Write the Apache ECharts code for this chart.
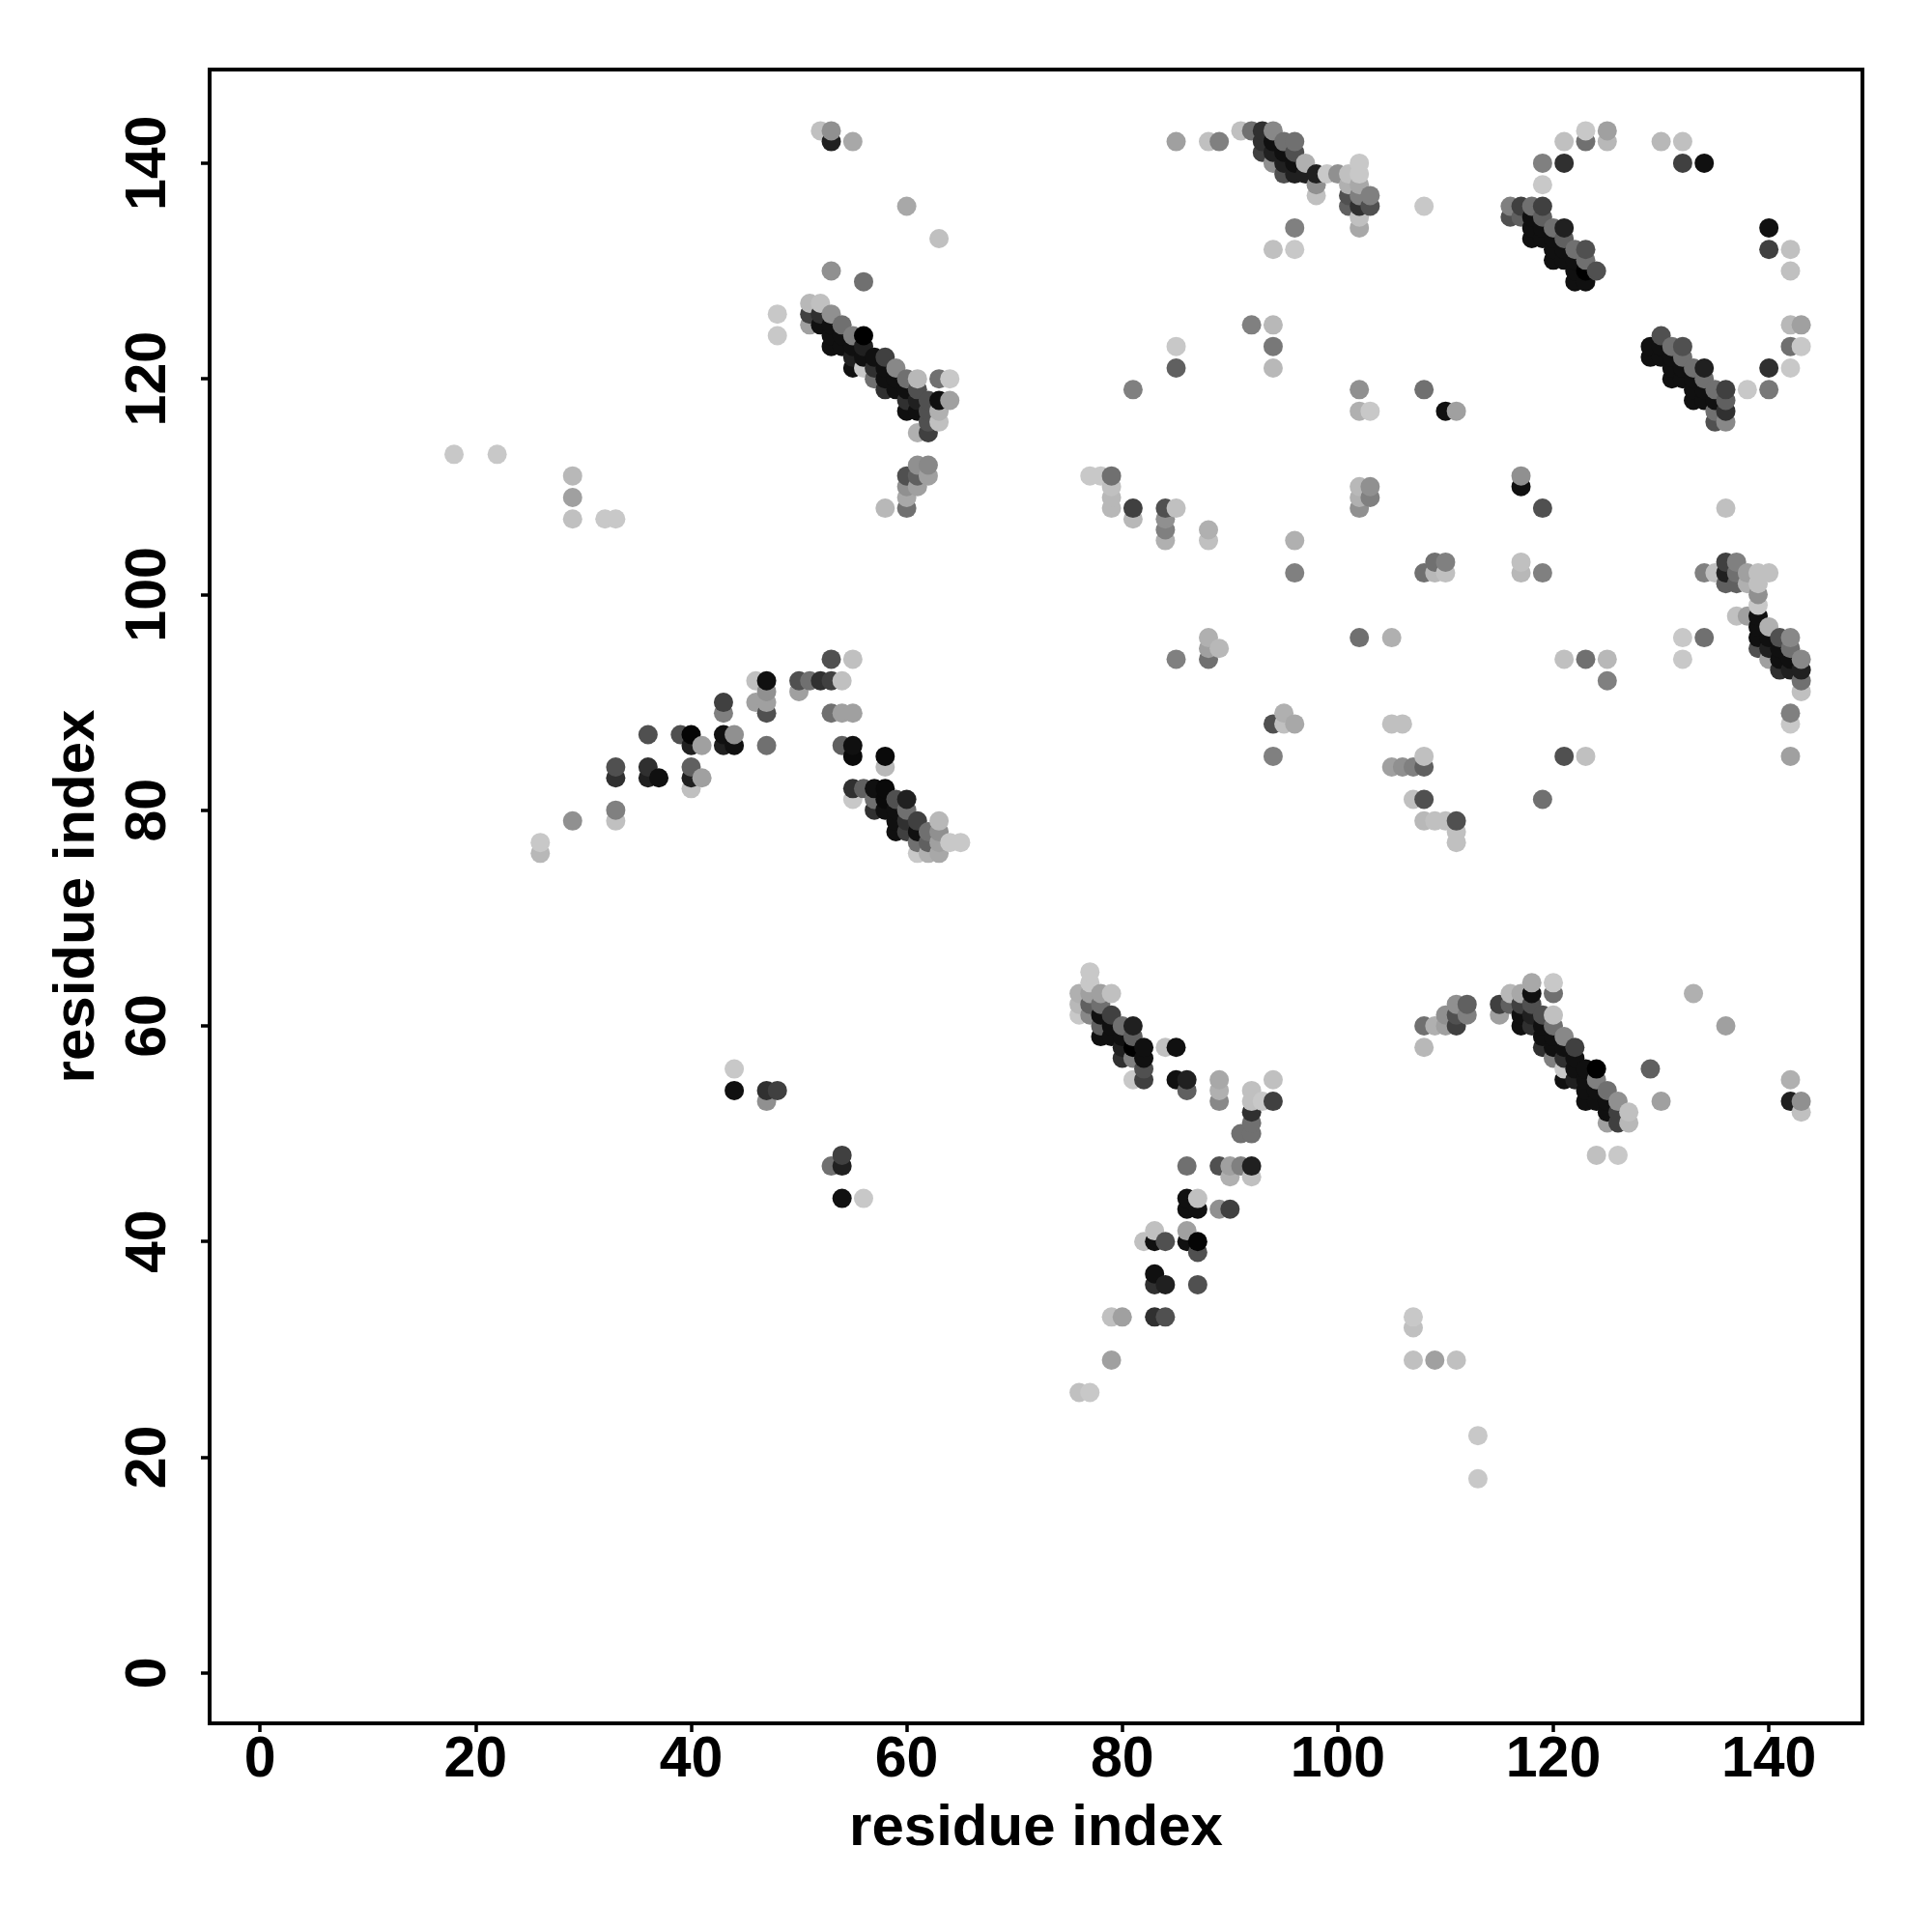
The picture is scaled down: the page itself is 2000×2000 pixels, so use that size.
<!DOCTYPE html>
<html><head><meta charset="utf-8">
<style>html,body{margin:0;padding:0;background:#fff}#c{width:2000px;height:2000px}</style>
<script src="https://cdn.jsdelivr.net/npm/echarts@6/dist/echarts.min.js"></script>
</head><body><div id="c"></div>
<script>
const tickValues=[0,20,40,60,80,100,120,140];
const axisTitle="residue index";
// contacts: [residue i, residue j, shade 0-255]
const sparseLeft=[[18,113,200],[22,113,200],[29,111,184],[29,109,160],[29,107,192],[32,107,200],[33,107,200],[26,77,200],[26,76,184],[29,79,144],[33,80,128],[33,79,192],[33,84,80],[33,83,48],[36,87,80],[36,84,48],[36,83,32],[37,83,16],[39,87,80],[40,87,5],[40,86,32],[40,84,96],[40,83,32],[40,82,192],[41,86,160],[41,83,160],[43,90,64],[43,89,128],[43,87,16],[43,86,32],[44,87,144],[44,86,16],[46,92,192],[46,90,160],[47,92,16],[47,91,144],[47,90,160],[47,89,80],[47,86,112],[50,92,80],[50,91,160],[51,92,112],[52,92,48],[53,94,80],[53,92,64],[54,92,192],[53,89,112],[54,89,160],[55,89,160],[55,94,192],[44,56,200],[44,54,16],[47,54,48],[47,53,144],[48,54,64],[53,47,112],[54,48,64],[54,47,32],[54,44,16],[56,44,200]];
const stripeLow=[[54,86,96],[55,86,16],[55,85,10],[58,85,10],[58,84,184],[55,82,48],[55,81,200],[56,82,96],[57,82,16],[57,81,112],[58,82,10],[58,81,10],[59,81,80],[60,81,32],[57,80,48],[58,80,16],[59,80,16],[60,80,112],[59,79,16],[60,79,48],[61,79,64],[59,78,16],[60,78,64],[61,78,16],[62,78,112],[63,79,184],[63,78,144],[62,77,96],[61,77,112],[63,77,160],[64,77,200],[65,77,200],[61,76,200],[62,76,176],[63,76,168]];
const stripeUpper=[[48,126,200],[48,124,200],[51,127,184],[52,127,192],[51,126,64],[51,125,160],[52,126,48],[52,125,16],[53,126,144],[53,125,16],[53,124,16],[53,123,16],[54,125,112],[54,124,16],[54,123,16],[55,124,128],[55,123,16],[55,122,32],[55,121,16],[56,124,0],[56,123,32],[56,122,16],[56,121,200],[57,122,16],[57,121,48],[57,120,112],[58,122,64],[58,121,16],[58,120,16],[58,119,48],[59,121,136],[59,120,16],[59,119,16],[60,120,112],[60,119,16],[60,118,48],[60,117,16],[61,120,184],[61,119,80],[61,118,32],[61,117,16],[61,115,176],[62,118,80],[62,117,80],[62,116,80],[62,115,64],[63,120,112],[63,118,16],[63,117,176],[63,116,192],[64,120,200],[64,118,160],[53,130,144],[56,129,112],[60,136,168],[63,133,192],[52,143,192],[53,143,144],[53,142,32],[55,142,168],[58,108,184],[60,111,80],[60,110,144],[60,109,168],[60,108,112],[61,112,144],[61,111,96],[61,110,160],[62,112,136],[62,111,160]];
const stripeTop=[[85,142,160],[88,142,192],[89,142,128],[91,143,192],[92,143,112],[93,143,48],[94,143,136],[93,142,48],[93,141,64],[94,142,16],[94,141,32],[94,140,144],[95,142,112],[95,141,16],[95,140,32],[95,139,80],[96,142,112],[96,141,80],[96,140,16],[96,139,32],[97,140,176],[97,139,32],[98,139,32],[98,138,144],[98,137,192],[99,139,200],[100,139,144],[101,139,192],[102,140,200],[102,139,200],[101,138,176],[102,138,168],[101,137,80],[102,137,128],[103,137,128],[101,136,96],[102,136,48],[103,136,80],[102,135,192],[102,134,168],[96,134,128],[94,132,192],[96,132,200]];
const stripeTopRight=[[119,138,200],[119,140,128],[121,140,48],[121,142,192],[123,142,112],[123,143,200],[125,142,184],[125,143,160],[130,142,184],[132,142,192],[132,140,64],[134,140,16],[116,136,128],[117,136,64],[118,136,112],[119,136,64],[116,135,80],[117,135,96],[118,135,16],[118,134,16],[118,133,16],[119,135,96],[119,134,16],[119,133,16],[120,134,112],[120,133,16],[120,132,16],[120,131,16],[121,134,32],[121,133,96],[121,132,16],[121,131,16],[122,132,112],[122,131,16],[122,130,16],[122,129,16],[123,132,80],[123,131,112],[123,130,0],[123,129,16],[124,130,80]];
const stripeRight=[[130,124,80],[129,123,16],[129,122,16],[130,123,16],[130,122,16],[131,123,112],[131,122,16],[131,121,16],[131,120,16],[132,123,80],[132,122,112],[132,121,16],[132,120,16],[133,121,112],[133,120,16],[133,119,16],[133,118,16],[134,121,32],[134,120,112],[134,119,16],[134,118,16],[135,119,112],[135,118,16],[135,117,112],[135,116,80],[136,119,64],[136,118,96],[136,117,48],[136,116,136],[138,119,200],[140,119,120],[140,121,48],[142,121,200],[142,123,112],[143,123,200],[142,125,184],[143,125,160],[140,134,16],[140,132,64],[142,132,192],[142,130,192]];
const sparseMiddle=[[108,136,200],[92,125,128],[94,125,184],[94,123,120],[94,121,184],[85,123,200],[85,121,96],[81,119,128],[102,119,144],[108,119,112],[102,117,176],[103,117,200],[110,117,16],[111,117,160],[77,111,200],[78,111,200],[79,111,112],[79,110,192],[79,109,184],[79,108,184],[81,108,64],[81,107,184],[84,108,80],[84,107,144],[84,106,128],[84,105,176],[85,108,192],[88,106,176],[88,105,192],[96,105,176],[96,102,128],[102,110,184],[103,110,144],[102,109,176],[103,109,128],[102,108,144],[117,111,144],[117,110,16],[119,108,80],[108,102,112],[109,103,112],[109,102,184],[110,103,128],[110,102,192],[117,103,192],[117,102,184],[119,102,128],[136,108,192],[121,94,192],[123,94,112],[125,94,184],[125,92,128],[121,85,80],[123,85,192],[119,81,112],[102,96,112],[105,96,176],[85,94,128],[88,96,176],[89,95,184],[88,95,160],[88,94,112],[94,88,80],[95,89,176],[95,88,192],[96,88,168],[94,85,128],[105,88,192],[106,88,192],[105,84,160],[106,84,144],[107,84,128],[108,85,192],[108,84,96],[107,81,192],[108,81,80],[108,79,184],[109,79,192],[110,79,192],[111,79,80],[111,78,192],[111,77,192]];
const clusterRight=[[134,102,128],[135,102,192],[136,103,64],[137,103,128],[136,102,32],[136,101,96],[137,102,112],[137,101,96],[138,102,160],[138,101,176],[139,102,192],[140,102,192],[139,101,192],[139,100,144],[139,99,200],[137,98,192],[138,98,160],[139,98,16],[139,97,16],[139,96,16],[139,95,80],[140,97,176],[140,96,16],[140,95,32],[140,94,160],[141,96,80],[141,95,16],[141,94,16],[141,93,48],[142,96,136],[142,95,112],[142,94,16],[142,93,32],[143,94,136],[143,93,32],[143,92,112],[143,91,192],[142,89,128],[142,88,200],[142,85,160],[132,96,200],[132,94,200],[134,96,112]];
const stripeMid=[[77,65,200],[77,64,200],[76,63,176],[76,62,184],[76,61,200],[77,63,160],[77,62,96],[77,61,136],[78,63,160],[79,63,192],[78,62,112],[78,61,16],[78,60,96],[78,59,16],[79,61,64],[79,60,16],[79,59,16],[80,60,112],[80,59,16],[80,58,32],[80,57,48],[81,60,32],[81,59,96],[81,58,0],[81,57,128],[81,55,200],[82,58,16],[82,57,16],[82,56,80],[82,55,64],[84,58,192],[85,58,16],[85,55,16],[86,55,32],[86,54,96],[89,55,168],[89,54,176],[89,53,136],[94,55,192],[92,54,192],[92,53,192],[93,53,200],[94,53,64],[92,52,48],[92,51,112],[91,50,112],[92,50,112],[92,47,32],[91,47,128],[90,47,160],[90,46,176],[89,47,80],[92,46,192],[89,43,144],[90,43,64]];
const armLower=[[86,47,112],[86,44,16],[86,43,16],[87,44,192],[87,43,16],[86,41,160],[86,40,16],[87,40,5],[87,39,80],[87,36,80],[83,41,192],[83,40,16],[82,40,192],[84,40,80],[83,37,16],[83,36,48],[84,36,32],[83,33,48],[84,33,80],[79,33,192],[80,33,160],[79,29,160],[76,26,192],[77,26,200],[107,33,200],[107,32,192],[107,29,192],[109,29,160],[111,29,192],[113,22,200],[113,18,200]];
const stripeLowRight=[[108,60,112],[109,60,176],[108,58,184],[110,61,144],[110,60,160],[111,62,144],[111,61,80],[111,60,64],[112,62,96],[112,61,128],[118,64,168],[120,64,200],[120,63,112],[118,63,16],[116,63,184],[117,63,168],[115,62,64],[115,61,160],[116,62,96],[117,62,64],[118,62,80],[117,61,16],[118,61,32],[117,60,16],[118,60,48],[119,61,80],[119,60,16],[119,59,16],[119,58,48],[120,61,192],[120,60,112],[120,59,16],[120,58,16],[120,57,128],[121,59,136],[121,58,16],[121,57,48],[121,56,200],[121,55,16],[122,58,64],[122,57,16],[122,56,16],[122,55,32],[123,56,16],[123,55,16],[123,54,16],[123,53,16],[124,56,0],[124,55,128],[124,54,16],[124,53,16],[125,54,112],[125,53,16],[125,52,16],[125,51,160],[126,53,144],[126,52,64],[126,51,64],[127,52,192],[127,51,184],[133,63,176],[129,56,96],[130,53,160],[136,60,160],[124,48,192],[126,48,200],[142,55,176],[142,53,32],[143,53,144],[143,52,192]];

const contacts=[].concat(sparseLeft,stripeLow,stripeUpper,sparseMiddle,stripeTop,stripeTopRight,stripeRight,clusterRight,armLower,stripeMid,stripeLowRight)
 .sort((a,b)=>a[0]-b[0]||a[1]-b[1]);
const font='"Liberation Sans",Arial,sans-serif';
const chart=echarts.init(document.getElementById('c'),null,{renderer:'canvas'});
function axis(extra){return Object.assign({type:'value',min:-4.68,max:148.68,interval:20,scale:true,splitLine:{show:false},
 axisLine:{show:true,onZero:false,lineStyle:{color:'#000',width:4}},
 axisTick:{show:true,length:9,lineStyle:{color:'#000',width:3.5},customValues:tickValues},
 nameLocation:'middle',name:axisTitle,
 nameTextStyle:{fontFamily:font,fontWeight:'bold',fontSize:60,color:'#000'}},extra);}
chart.setOption({animation:false,backgroundColor:'#fff',
 grid:{left:217,top:72,width:1711,height:1712,show:true,borderColor:'#000',borderWidth:4,backgroundColor:'transparent'},
 xAxis:axis({nameGap:79,axisLabel:{customValues:tickValues,margin:9,fontFamily:font,fontWeight:'bold',fontSize:59,color:'#000'}}),
 yAxis:axis({nameGap:107,axisLabel:{customValues:tickValues,rotate:90,margin:33,fontFamily:font,fontWeight:'bold',fontSize:59,color:'#000',align:'center',verticalAlign:'bottom'}}),
 series:[{type:'scatter',symbol:'circle',symbolSize:20,data:contacts,
  itemStyle:{opacity:1,color:p=>{const g=p.value[2];return `rgb(${g},${g},${g})`;}}}]
});
</script></body></html>
